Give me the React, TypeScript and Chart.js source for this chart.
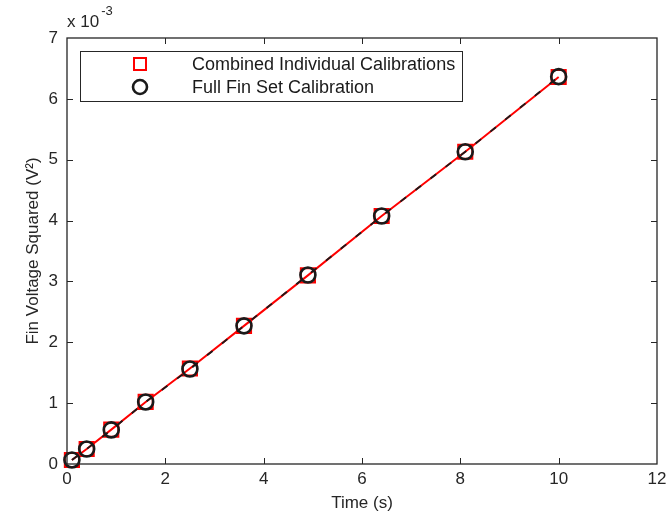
import React, { useEffect, useRef } from 'react';
import { Chart, registerables } from 'chart.js';

Chart.register(...registerables);

// Data (y values in units of 1e-3 V^2)
const timeValues = [0.1, 0.4, 0.9, 1.6, 2.5, 3.6, 4.9, 6.4, 8.1, 10];
const combinedValues = [0.065, 0.247, 0.565, 1.02, 1.57, 2.27, 3.1, 4.075, 5.13, 6.36];
const fullSetValues = [0.066, 0.246, 0.56, 1.02, 1.56, 2.27, 3.105, 4.075, 5.13, 6.365];
const xTickValues = [0, 2, 4, 6, 8, 10, 12];
const yTickValues = [0, 1, 2, 3, 4, 5, 6, 7];
const seriesLabels = ['Combined Individual Calibrations', 'Full Fin Set Calibration'];
const xTitle = 'Time (s)';
const yTitle = 'Fin Voltage Squared (V\u00B2)';
const multiplierBase = 'x 10';
const multiplierExp = '-3';

const FONT = '"Liberation Sans", Arial, Helvetica, sans-serif';
const AXIS_COLOR = '#262626';

const framePlugin = {
  id: 'matlabFrame',
  afterDatasetsDraw(chart: any) {
    const { ctx, chartArea: a, scales } = chart;
    const x = scales.x;
    const y = scales.y;
    ctx.save();
    ctx.strokeStyle = AXIS_COLOR;
    ctx.lineWidth = 1.3;
    ctx.strokeRect(a.left, a.top, a.right - a.left, a.bottom - a.top);
    ctx.lineWidth = 1;
    const tl = 6;
    ctx.beginPath();
    xTickValues.forEach((v) => {
      const px = Math.round(x.getPixelForValue(v)) + 0.5;
      if (px <= a.left + 1 || px >= a.right - 1) return;
      ctx.moveTo(px, a.bottom);
      ctx.lineTo(px, a.bottom - tl);
      ctx.moveTo(px, a.top);
      ctx.lineTo(px, a.top + tl);
    });
    yTickValues.forEach((v) => {
      const py = Math.round(y.getPixelForValue(v)) + 0.5;
      if (py <= a.top + 1 || py >= a.bottom - 1) return;
      ctx.moveTo(a.left, py);
      ctx.lineTo(a.left + tl, py);
      ctx.moveTo(a.right, py);
      ctx.lineTo(a.right - tl, py);
    });
    ctx.stroke();

    // exponent label
    ctx.fillStyle = AXIS_COLOR;
    ctx.textAlign = 'left';
    ctx.textBaseline = 'alphabetic';
    ctx.font = `17px ${FONT}`;
    ctx.fillText(multiplierBase, a.left, a.top - 11);
    const w = ctx.measureText(multiplierBase).width;
    ctx.font = `13px ${FONT}`;
    ctx.fillText(multiplierExp, a.left + w + 2, a.top - 23);
    ctx.restore();
  },
  afterDraw(chart: any) {
    const { ctx, chartArea: a } = chart;
    const ds = chart.data.datasets;
    ctx.save();
    const bx = a.left + 13;
    const by = a.top + 13;
    const bw = 382;
    const bh = 50;
    ctx.fillStyle = '#ffffff';
    ctx.fillRect(bx, by, bw, bh);
    ctx.strokeStyle = AXIS_COLOR;
    ctx.lineWidth = 1;
    ctx.strokeRect(bx + 0.5, by + 0.5, bw, bh);
    const mx = bx + 60;
    const tx = bx + 112;
    const rows = [by + 13, by + 36];
    // row 1: square
    ctx.strokeStyle = ds[0].pointBorderColor;
    ctx.lineWidth = ds[0].pointBorderWidth;
    ctx.strokeRect(mx - 6, rows[0] - 6, 12, 12);
    // row 2: circle
    ctx.strokeStyle = ds[1].pointBorderColor;
    ctx.lineWidth = ds[1].pointBorderWidth;
    ctx.beginPath();
    ctx.arc(mx, rows[1], 7, 0, Math.PI * 2);
    ctx.stroke();
    ctx.fillStyle = '#1a1a1a';
    ctx.font = `18px ${FONT}`;
    ctx.textAlign = 'left';
    ctx.textBaseline = 'middle';
    ctx.fillText(seriesLabels[0], tx, rows[0] + 1);
    ctx.fillText(seriesLabels[1], tx, rows[1] + 1);
    ctx.restore();
  },
};

export default function App() {
  const canvasRef = useRef<HTMLCanvasElement | null>(null);

  useEffect(() => {
    const canvas = canvasRef.current;
    if (!canvas) return;
    const chart = new Chart(canvas, {
      type: 'scatter',
      data: {
        datasets: [
          {
            label: seriesLabels[0],
            data: timeValues.map((t, i) => ({ x: t, y: combinedValues[i] })),
            showLine: true,
            borderColor: '#ff0000',
            borderWidth: 2,
            pointStyle: 'rect',
            pointRadius: 10,
            pointBorderWidth: 2,
            pointBorderColor: '#ff0000',
            pointBackgroundColor: 'rgba(0,0,0,0)',
            clip: false,
            order: 2,
          } as any,
          {
            label: seriesLabels[1],
            data: timeValues.map((t, i) => ({ x: t, y: fullSetValues[i] })),
            showLine: true,
            borderColor: '#1a1a1a',
            borderWidth: 1.8,
            borderDash: [7, 12],
            pointStyle: 'circle',
            pointRadius: 7.5,
            pointBorderWidth: 2.6,
            pointBorderColor: '#1a1a1a',
            pointBackgroundColor: 'rgba(0,0,0,0)',
            clip: false,
            order: 1,
          } as any,
        ],
      },
      options: {
        responsive: false,
        maintainAspectRatio: false,
        animation: false,
        devicePixelRatio: 1,
        layout: { padding: { top: 38, right: 13, bottom: 0, left: 0 } },
        plugins: {
          legend: { display: false },
          tooltip: { enabled: false },
        },
        scales: {
          x: {
            type: 'linear',
            position: 'bottom',
            min: 0,
            max: 12,
            afterBuildTicks: (s: any) => {
              s.ticks = xTickValues.map((v) => ({ value: v }));
            },
            ticks: {
              color: AXIS_COLOR,
              font: { family: FONT, size: 17 },
              padding: 5,
              maxRotation: 0,
            },
            grid: { display: false, drawTicks: false },
            border: { display: false },
            title: {
              display: true,
              text: xTitle,
              color: AXIS_COLOR,
              font: { family: FONT, size: 17 },
              padding: { top: 0, bottom: 4 },
            },
            afterFit: (s: any) => {
              s.height = 54;
              s.paddingRight = 0;
              s.paddingLeft = 0;
            },
          },
          y: {
            type: 'linear',
            min: 0,
            max: 7,
            afterBuildTicks: (s: any) => {
              s.ticks = yTickValues.map((v) => ({ value: v }));
            },
            ticks: {
              color: AXIS_COLOR,
              font: { family: FONT, size: 17 },
              padding: 9,
            },
            grid: { display: false, drawTicks: false },
            border: { display: false },
            title: {
              display: true,
              text: yTitle,
              color: AXIS_COLOR,
              font: { family: FONT, size: 17 },
              padding: { top: 23, bottom: 0 },
            },
            afterFit: (s: any) => {
              s.width = 67;
              s.paddingTop = 0;
              s.paddingBottom = 0;
            },
          },
        },
      } as any,
      plugins: [framePlugin],
    });
    return () => chart.destroy();
  }, []);

  return (
    <div style={{ position: 'absolute', left: 0, top: 0, width: 670, height: 518, background: '#ffffff' }}>
      <canvas ref={canvasRef} width={670} height={518} style={{ display: 'block' }} />
    </div>
  );
}
